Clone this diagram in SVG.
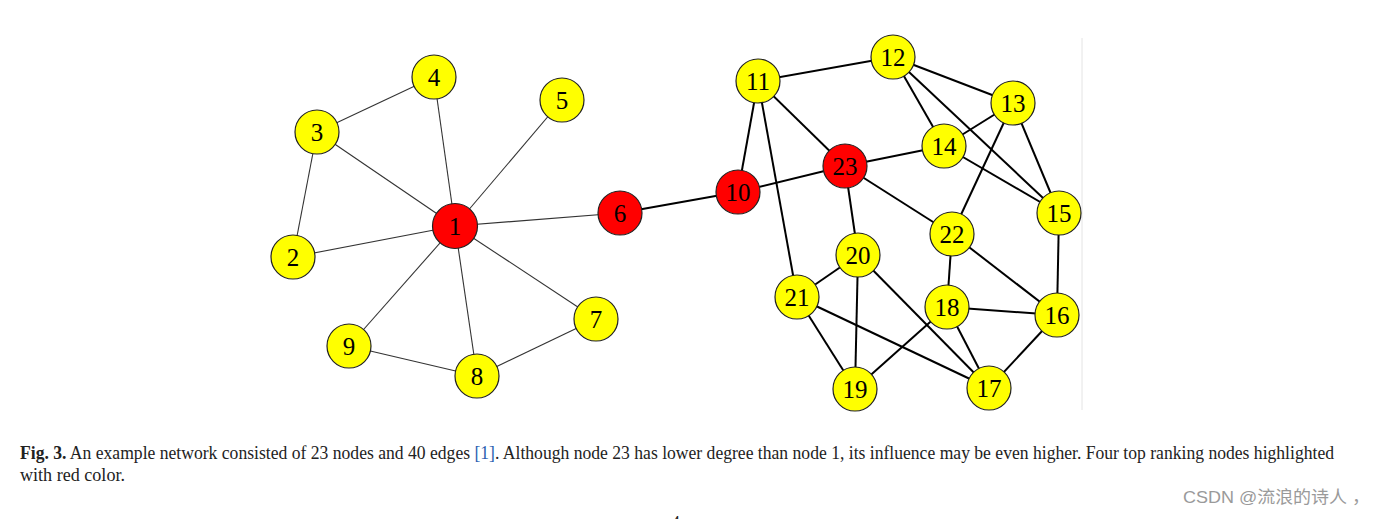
<svg xmlns="http://www.w3.org/2000/svg" width="1386" height="519" viewBox="0 0 1386 519">
<style>
.bg{fill:#fff}
.thin line{stroke:#333;stroke-width:1.1}
.thick line{stroke:#000;stroke-width:2}
.n circle{stroke:#222;stroke-width:1.2}
.y circle{fill:#ffff00}
.r circle{fill:#ff0000}
.n text{font-family:"Liberation Serif","DejaVu Serif",serif;font-size:25px;text-anchor:middle;fill:#000}
.cap{font-family:"Liberation Serif","DejaVu Serif",serif;font-size:18px;fill:#222}
.wm{font-family:"Liberation Sans","Noto Sans CJK SC",sans-serif;font-size:17px;fill:#9a9a9a}
</style>
<rect class="bg" x="0" y="0" width="1386" height="519"/>
<line x1="1082" y1="38" x2="1082" y2="410" stroke="#e4e4e4" stroke-width="1"/>
<g id="connectors">
 <g class="thin">
  <line x1="455" y1="226" x2="293" y2="257"/>
  <line x1="455" y1="226" x2="317" y2="132"/>
  <line x1="455" y1="226" x2="434" y2="77"/>
  <line x1="455" y1="226" x2="562" y2="100"/>
  <line x1="455" y1="226" x2="620" y2="213"/>
  <line x1="455" y1="226" x2="596" y2="319"/>
  <line x1="455" y1="226" x2="477" y2="376"/>
  <line x1="455" y1="226" x2="349" y2="346"/>
  <line x1="317" y1="132" x2="434" y2="77"/>
  <line x1="293" y1="257" x2="317" y2="132"/>
  <line x1="349" y1="346" x2="477" y2="376"/>
  <line x1="477" y1="376" x2="596" y2="319"/>
 </g>
 <g class="thick">
  <line x1="620" y1="213" x2="738" y2="192"/>
  <line x1="738" y1="192" x2="758" y2="81"/>
  <line x1="738" y1="192" x2="845" y2="166"/>
  <line x1="758" y1="81" x2="893" y2="57"/>
  <line x1="758" y1="81" x2="845" y2="166"/>
  <line x1="758" y1="81" x2="797" y2="297"/>
  <line x1="893" y1="57" x2="1013" y2="103"/>
  <line x1="893" y1="57" x2="944" y2="146"/>
  <line x1="893" y1="57" x2="1059" y2="213"/>
  <line x1="1013" y1="103" x2="944" y2="146"/>
  <line x1="1013" y1="103" x2="1059" y2="213"/>
  <line x1="1013" y1="103" x2="952" y2="234"/>
  <line x1="944" y1="146" x2="845" y2="166"/>
  <line x1="944" y1="146" x2="1059" y2="213"/>
  <line x1="845" y1="166" x2="952" y2="234"/>
  <line x1="845" y1="166" x2="858" y2="255"/>
  <line x1="1059" y1="213" x2="1057" y2="315"/>
  <line x1="952" y1="234" x2="947" y2="307"/>
  <line x1="952" y1="234" x2="1057" y2="315"/>
  <line x1="858" y1="255" x2="797" y2="297"/>
  <line x1="858" y1="255" x2="855" y2="389"/>
  <line x1="858" y1="255" x2="989" y2="388"/>
  <line x1="797" y1="297" x2="855" y2="389"/>
  <line x1="797" y1="297" x2="989" y2="388"/>
  <line x1="947" y1="307" x2="1057" y2="315"/>
  <line x1="947" y1="307" x2="989" y2="388"/>
  <line x1="947" y1="307" x2="855" y2="389"/>
  <line x1="1057" y1="315" x2="989" y2="388"/>
 </g>
</g>
<g id="n1" class="n r"><circle cx="455" cy="226" r="22.5"/><text x="455" y="235">1</text></g>
<g id="n2" class="n y"><circle cx="293" cy="257" r="22"/><text x="293" y="266">2</text></g>
<g id="n3" class="n y"><circle cx="317" cy="132" r="22"/><text x="317" y="141">3</text></g>
<g id="n4" class="n y"><circle cx="434" cy="77" r="22"/><text x="434" y="86">4</text></g>
<g id="n5" class="n y"><circle cx="562" cy="100" r="22"/><text x="562" y="109">5</text></g>
<g id="n6" class="n r"><circle cx="620" cy="213" r="22"/><text x="620" y="222">6</text></g>
<g id="n7" class="n y"><circle cx="596" cy="319" r="22"/><text x="596" y="328">7</text></g>
<g id="n8" class="n y"><circle cx="477" cy="376" r="22"/><text x="477" y="385">8</text></g>
<g id="n9" class="n y"><circle cx="349" cy="346" r="22"/><text x="349" y="355">9</text></g>
<g id="n10" class="n r"><circle cx="738" cy="192" r="22"/><text x="738" y="201">10</text></g>
<g id="n11" class="n y"><circle cx="758" cy="81" r="22"/><text x="758" y="90">11</text></g>
<g id="n12" class="n y"><circle cx="893" cy="57" r="22"/><text x="893" y="66">12</text></g>
<g id="n13" class="n y"><circle cx="1013" cy="103" r="22"/><text x="1013" y="112">13</text></g>
<g id="n14" class="n y"><circle cx="944" cy="146" r="22"/><text x="944" y="155">14</text></g>
<g id="n15" class="n y"><circle cx="1059" cy="213" r="22"/><text x="1059" y="222">15</text></g>
<g id="n16" class="n y"><circle cx="1057" cy="315" r="22"/><text x="1057" y="324">16</text></g>
<g id="n17" class="n y"><circle cx="989" cy="388" r="22"/><text x="989" y="397">17</text></g>
<g id="n18" class="n y"><circle cx="947" cy="307" r="22"/><text x="947" y="316">18</text></g>
<g id="n19" class="n y"><circle cx="855" cy="389" r="22"/><text x="855" y="398">19</text></g>
<g id="n20" class="n y"><circle cx="858" cy="255" r="22"/><text x="858" y="264">20</text></g>
<g id="n21" class="n y"><circle cx="797" cy="297" r="22"/><text x="797" y="306">21</text></g>
<g id="n22" class="n y"><circle cx="952" cy="234" r="22"/><text x="952" y="243">22</text></g>
<g id="n23" class="n r"><circle cx="845" cy="166" r="22"/><text x="845" y="175">23</text></g>
<text class="cap" x="20" y="459" textLength="1314" lengthAdjust="spacingAndGlyphs"><tspan font-weight="bold">Fig. 3.</tspan> An example network consisted of 23 nodes and 40 edges <tspan fill="#2a5db0">[1]</tspan>. Although node 23 has lower degree than node 1, its influence may be even higher. Four top ranking nodes highlighted</text>
<text class="cap" x="20" y="481" textLength="105" lengthAdjust="spacingAndGlyphs">with red color.</text>
<text class="cap" x="671" y="529" font-size="18">4</text>
<text class="wm" x="1183" y="503" textLength="187" lengthAdjust="spacingAndGlyphs">CSDN @流浪的诗人 ，</text>
</svg>
